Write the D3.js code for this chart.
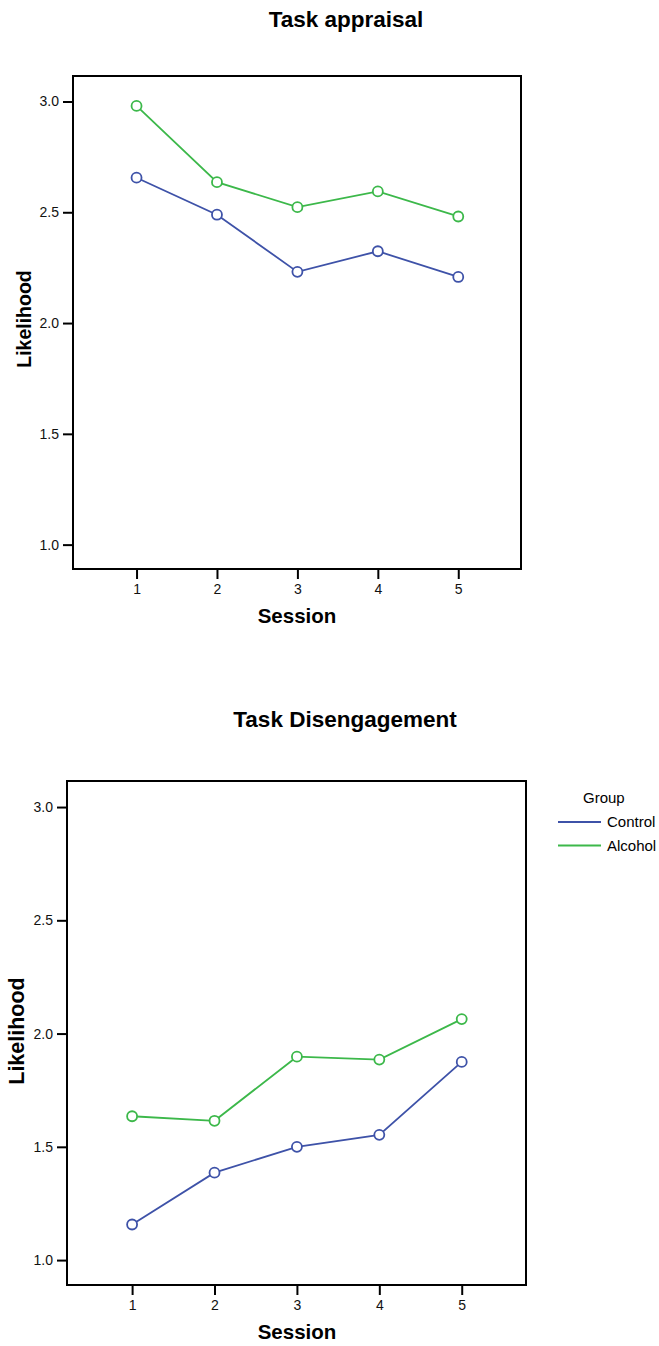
<!DOCTYPE html>
<html><head><meta charset="utf-8">
<script src="https://cdn.jsdelivr.net/npm/d3@7"></script>
<style>body{margin:0;background:#fff}svg{display:block}</style>
</head><body>
<script>
const sessions = [1, 2, 3, 4, 5];
const yTicks = [1.0, 1.5, 2.0, 2.5, 3.0];
const groups = ["Control", "Alcohol"];
const colors = ["#3e52a8", "#3cb84a"];
const appraisalControl = [2.656, 2.489, 2.231, 2.324, 2.208];
const appraisalAlcohol = [2.980, 2.636, 2.523, 2.594, 2.481];
const disengControl = [1.157, 1.386, 1.500, 1.553, 1.875];
const disengAlcohol = [1.635, 1.615, 1.898, 1.885, 2.064];

const svg = d3.select("body").append("svg").attr("width", 659).attr("height", 1346);
const font = "'Liberation Sans', Arial, sans-serif";

function panel(cfg) {
  const g = svg.append("g");
  const x = d3.scaleLinear().domain([0.21, 5.78]).range([cfg.left, cfg.right]);
  const y = d3.scaleLinear().domain([0.89, 3.115]).range([cfg.bottom, cfg.top]);
  g.append("rect").attr("x", cfg.left).attr("y", cfg.top)
    .attr("width", cfg.right - cfg.left).attr("height", cfg.bottom - cfg.top)
    .attr("fill", "none").attr("stroke", "#000").attr("stroke-width", 2);
  const ya = g.append("g").attr("transform", `translate(${cfg.left},0)`)
    .call(d3.axisLeft(y).tickValues(yTicks).tickFormat(d3.format(".1f")).tickSize(10).tickPadding(4));
  const xa = g.append("g").attr("transform", `translate(0,${cfg.bottom})`)
    .call(d3.axisBottom(x).tickValues(sessions).tickFormat(d3.format("d")).tickSize(10).tickPadding(5));
  [ya, xa].forEach(a => {
    a.select(".domain").remove();
    a.selectAll("line").attr("stroke", "#000").attr("stroke-width", 2);
    a.selectAll("text").attr("font-family", font).attr("font-size", 14).attr("fill", "#111");
  });
  const line = d3.line().x((d, i) => x(sessions[i])).y(d => y(d));
  cfg.series.forEach((s, k) => {
    g.append("path").attr("d", line(s)).attr("fill", "none")
      .attr("stroke", colors[k]).attr("stroke-width", 1.8);
    g.selectAll(null).data(s).enter().append("circle")
      .attr("cx", (d, i) => x(sessions[i])).attr("cy", d => y(d)).attr("r", 5)
      .attr("fill", "#fff").attr("stroke", colors[k]).attr("stroke-width", 1.8);
  });
  g.append("text").attr("x", cfg.titleX).attr("y", cfg.titleY).attr("text-anchor", "middle")
    .attr("font-family", font).attr("font-weight", "bold").attr("font-size", 22.5).text(cfg.title);
  g.append("text").attr("x", 297).attr("y", cfg.bottom + 54).attr("text-anchor", "middle")
    .attr("font-family", font).attr("font-weight", "bold").attr("font-size", 20.5).text("Session");
  g.append("text").attr("transform", `translate(${cfg.ylabX},${cfg.ylabY}) rotate(-90)`)
    .attr("text-anchor", "middle").attr("font-family", font).attr("font-weight", "bold")
    .attr("font-size", cfg.ylabSize).text("Likelihood");
}

panel({left: 73, right: 521, top: 76, bottom: 569, title: "Task appraisal", titleX: 346, titleY: 27,
  ylabX: 30.5, ylabY: 319, ylabSize: 19.5, series: [appraisalControl, appraisalAlcohol]});
panel({left: 67, right: 526, top: 781, bottom: 1285, title: "Task Disengagement", titleX: 345, titleY: 727,
  ylabX: 23.5, ylabY: 1031, ylabSize: 21.5, series: [disengControl, disengAlcohol]});

const lg = svg.append("g");
lg.append("text").attr("x", 583).attr("y", 803).attr("font-family", font).attr("font-size", 15).text("Group");
groups.forEach((gname, i) => {
  const yy = 822 + i * 23.5;
  lg.append("line").attr("x1", 558).attr("x2", 601).attr("y1", yy).attr("y2", yy)
    .attr("stroke", colors[i]).attr("stroke-width", 1.8);
  lg.append("text").attr("x", 607).attr("y", yy + 5).attr("font-family", font).attr("font-size", 15).text(gname);
});
</script>
</body></html>
